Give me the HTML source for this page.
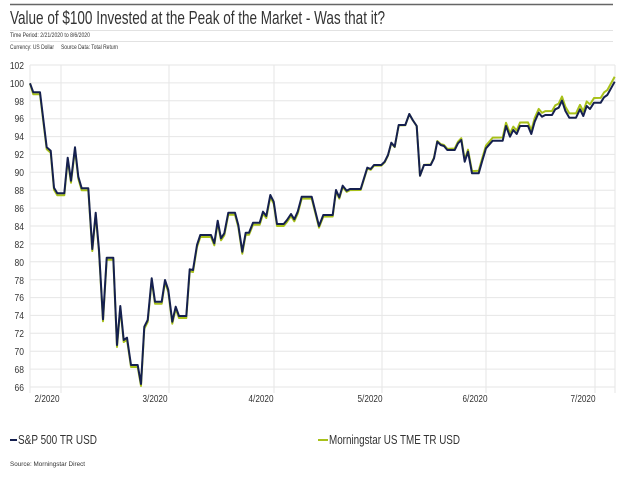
<!DOCTYPE html>
<html><head><meta charset="utf-8"><style>
body{margin:0;background:#fff;}
svg text{font-family:"Liberation Sans",sans-serif;}
</style></head><body>
<svg width="623" height="473" viewBox="0 0 623 473" xmlns="http://www.w3.org/2000/svg">
<line x1="10" y1="4.5" x2="613" y2="4.5" stroke="#666" stroke-width="1.5"/>
<text x="10" y="24" font-size="18.5" fill="#333" textLength="375" lengthAdjust="spacingAndGlyphs">Value of $100 Invested at the Peak of the Market - Was that it?</text>
<line x1="10" y1="30.5" x2="613" y2="30.5" stroke="#e2e2e2"/>
<text x="10" y="37" font-size="6" fill="#333" textLength="80" lengthAdjust="spacingAndGlyphs">Time Period: 2/21/2020 to 8/6/2020</text>
<line x1="10" y1="41.5" x2="613" y2="41.5" stroke="#e2e2e2"/>
<text x="10" y="49" font-size="6" fill="#333" textLength="44" lengthAdjust="spacingAndGlyphs">Currency: US Dollar</text>
<text x="61" y="49" font-size="6" fill="#333" textLength="57" lengthAdjust="spacingAndGlyphs">Source Data: Total Return</text>
<g stroke="#e6e6e6" stroke-width="1">
<line x1="30" x2="615" y1="65" y2="65"/><line x1="30" x2="615" y1="82.9" y2="82.9"/><line x1="30" x2="615" y1="100.8" y2="100.8"/><line x1="30" x2="615" y1="118.7" y2="118.7"/><line x1="30" x2="615" y1="136.6" y2="136.6"/><line x1="30" x2="615" y1="154.4" y2="154.4"/><line x1="30" x2="615" y1="172.3" y2="172.3"/><line x1="30" x2="615" y1="190.2" y2="190.2"/><line x1="30" x2="615" y1="208.1" y2="208.1"/><line x1="30" x2="615" y1="226" y2="226"/><line x1="30" x2="615" y1="243.9" y2="243.9"/><line x1="30" x2="615" y1="261.8" y2="261.8"/><line x1="30" x2="615" y1="279.7" y2="279.7"/><line x1="30" x2="615" y1="297.6" y2="297.6"/><line x1="30" x2="615" y1="315.4" y2="315.4"/><line x1="30" x2="615" y1="333.3" y2="333.3"/><line x1="30" x2="615" y1="351.2" y2="351.2"/><line x1="30" x2="615" y1="369.1" y2="369.1"/><line x1="30" x2="615" y1="387" y2="387"/>
<line x1="30" x2="30" y1="65" y2="393"/><line x1="61" x2="61" y1="65" y2="393"/><line x1="169" x2="169" y1="65" y2="393"/><line x1="274" x2="274" y1="65" y2="393"/><line x1="382" x2="382" y1="65" y2="393"/><line x1="486" x2="486" y1="65" y2="393"/><line x1="595" x2="595" y1="65" y2="393"/><line x1="615" x2="615" y1="65" y2="393"/>
</g>
<g font-size="10" fill="#333" text-anchor="end" transform="translate(24 0) scale(0.85 1) translate(-24 0)">
<text x="24" y="69">102</text><text x="24" y="87">100</text><text x="24" y="105">98</text><text x="24" y="122">96</text><text x="24" y="140">94</text><text x="24" y="158">92</text><text x="24" y="176">90</text><text x="24" y="194">88</text><text x="24" y="212">86</text><text x="24" y="230">84</text><text x="24" y="248">82</text><text x="24" y="266">80</text><text x="24" y="284">78</text><text x="24" y="301">76</text><text x="24" y="319">74</text><text x="24" y="337">72</text><text x="24" y="355">70</text><text x="24" y="373">68</text><text x="24" y="391">66</text>
</g>
<g font-size="10" fill="#333" text-anchor="middle">
<text x="47" y="402" textLength="25" lengthAdjust="spacingAndGlyphs">2/2020</text><text x="155" y="402" textLength="25" lengthAdjust="spacingAndGlyphs">3/2020</text><text x="261" y="402" textLength="25" lengthAdjust="spacingAndGlyphs">4/2020</text><text x="370" y="402" textLength="25" lengthAdjust="spacingAndGlyphs">5/2020</text><text x="475" y="402" textLength="25" lengthAdjust="spacingAndGlyphs">6/2020</text><text x="583" y="402" textLength="25" lengthAdjust="spacingAndGlyphs">7/2020</text>
</g>
<polyline id="g" fill="none" stroke="#a8c11a" stroke-width="2" stroke-linejoin="round"/>
<polyline id="n" fill="none" stroke="#15204f" stroke-width="2" stroke-linejoin="round"/>
<line x1="10" y1="440" x2="17" y2="440" stroke="#15204f" stroke-width="2"/>
<text x="18" y="444" font-size="12.5" fill="#333" textLength="79" lengthAdjust="spacingAndGlyphs">S&amp;P 500 TR USD</text>
<line x1="318" y1="440" x2="328" y2="440" stroke="#a8c11a" stroke-width="2"/>
<text x="329" y="444" font-size="12.5" fill="#333" textLength="131" lengthAdjust="spacingAndGlyphs">Morningstar US TME TR USD</text>
<text x="10" y="466" font-size="6.5" fill="#333" textLength="75" lengthAdjust="spacingAndGlyphs">Source: Morningstar Direct</text>
</svg>
<script>
var p=[[30,83.3],[33.3,92.3],[40,92.3],[46.7,147.3],[50.7,150.7],[54,187.7],[57.3,193.3],[64.3,193.3],[67.7,157.7],[71,180.7],[75,147.3],[78.3,176.7],[81.7,188.3],[88.3,188.3],[92.3,249],[95.7,212.7],[99,250],[103,319.3],[106.7,257.7],[113.3,257.7],[117,345],[120.3,306],[123.7,340],[127,337.7],[131,365],[137.7,365],[141,384],[144.3,326.7],[147.7,320],[151.7,278.3],[155,301.7],[161.7,301.7],[165,280],[168.3,290],[172.3,321.7],[175.7,306.7],[179,316],[186.3,316],[189.7,269.3],[193,270],[197,245],[200.3,235],[211,235],[214.3,243.3],[217.7,220.7],[221,238.3],[224.3,233.3],[228.3,212.7],[235,212.7],[238.3,225],[242.3,251.7],[245.7,232.7],[249,232.7],[253,222.7],[259.7,222.7],[263,211.7],[266.3,216],[270.3,195],[273.7,201.7],[277,224],[283.7,224],[287,220],[291,214],[294.3,219.3],[297.7,211.7],[301.7,196.7],[311.7,196.7],[315,210],[319,226],[323.3,215],[332.7,215],[336,190],[339.3,197.3],[342.7,185.7],[346.7,190.7],[350,189],[360.7,189],[364,178.3],[367.3,167.7],[370.7,169],[374,165],[381.3,165],[384.7,161.7],[388,155],[391.3,142.7],[394.7,146.7],[398.7,125],[405.3,125],[409.3,114],[412.7,120],[416.7,126],[420,175.7],[424,165],[430.7,165],[434,158.3],[437.3,141.7],[440.7,145],[444,146],[447.3,150],[454.7,150],[458,143.3],[461.3,140],[464.7,161.7],[468,151.7],[472,173.3],[478.7,173.3],[482,161.7],[486,148.3],[492.7,140.7],[502.7,140.7],[506,126],[510,136.7],[513.3,130],[516.7,134],[520,126],[528,126],[531.3,134],[534.7,121.7],[538.7,112.7],[542,116.7],[545.3,115],[552,115],[555.3,109.3],[558.7,107.7],[562,100.7],[565.3,110.7],[569.3,117.7],[576,117.7],[580,109.3],[583.3,116],[586.7,106],[590,109],[594,102.7],[600.7,102.7],[604,97.3],[607.3,95],[614.7,81.7]];
function off(x){if(x<300)return 2;if(x<420)return 2-2*(x-300)/120;if(x<490)return -3*(x-420)/70;return -3-2*(x-490)/125;}
document.getElementById('n').setAttribute('points',p.map(function(a){return a[0]+','+a[1]}).join(' '));
document.getElementById('g').setAttribute('points',p.map(function(a){return a[0]+','+(a[0]<32?a[1]:a[1]+off(a[0]))}).join(' '));
</script>
</body></html>
